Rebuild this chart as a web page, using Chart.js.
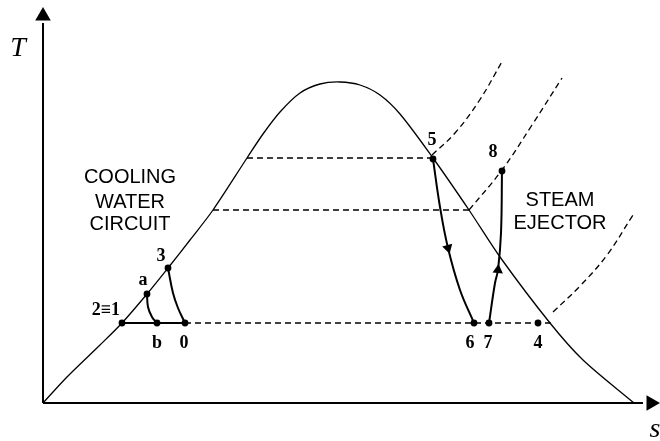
<!DOCTYPE html>
<html>
<head>
<meta charset="utf-8">
<script src="https://cdn.jsdelivr.net/npm/chart.js@4/dist/chart.umd.min.js"></script>
<style>
  html, body { margin: 0; padding: 0; background: #fff; }
  canvas { display: block; }
</style>
</head>
<body>
<canvas id="ts" width="660" height="441"></canvas>
<script>
// T-s diagram, schematic units (s across, T up)

// saturation dome
const domeS = [0, 24, 57, 79, 104, 125, 147, 170, 204, 220, 237, 257, 277, 297, 317, 337, 357, 390, 426, 457, 507, 540, 591];
const domeT = [0, 26, 58, 80, 109, 135, 163, 193, 245, 269, 291, 310, 319, 321, 318, 308, 289, 245, 193, 146, 80, 43, 0];

// constant temperature lines
const isoHigh = { s: [204, 390], T: [245, 245] };
const isoMid = { s: [170, 426], T: [193, 193] };
const isoLow = { s: [142, 510], T: [80, 80] };
const coolLine = { s: [79, 142], T: [80, 80] };

// superheated isobars (dashed)
const isobarA = { s: [389, 412, 436, 460], T: [248, 270, 302, 343] };
const isobarB = { s: [426, 459, 489, 519], T: [193, 233, 278, 325] };
const isobarC = { s: [510, 537, 564, 590], T: [91, 117, 148, 188] };

// process paths
const pathAB = { s: [104, 105, 109, 114], T: [109, 96, 86, 80] };
const path30 = { s: [125, 130, 135, 142], T: [135, 110, 95, 80] };
const path56 = { s: [390, 397, 405, 417, 431], T: [244, 196, 155, 113, 80] };
const path78 = { s: [446, 452, 455, 458, 459], T: [80, 120, 133, 170, 232] };

// state points
const stateNames = ['2≡1', 'a', '3', 'b', '0', '5', '8', '6', '7', '4'];
const stateS = [79, 104, 125, 114, 142, 390, 459, 431, 446, 495];
const stateT = [80, 109, 135, 80, 80, 244, 232, 80, 80, 80];
const labelS = [77, 100, 118, 114, 141, 389, 450, 427, 445, 495];
const labelT = [93, 123, 147, 60, 60, 263, 251, 60, 60, 60];

// flow arrows on the ejector paths
const arrowS = [405, 455];
const arrowT = [155, 133];
const arrowDir = [164, 5];

// region captions
const captions = [
  { lines: ['COOLING', 'WATER', 'CIRCUIT'], s: 87, T: [226, 201, 179] },
  { lines: ['STEAM', 'EJECTOR'], s: 517, T: [203, 180] }
];

const toPts = (xs, ys) => xs.map((x, i) => ({ x: x, y: ys[i] }));

function line(obj, opts) {
  return Object.assign({
    data: toPts(obj.s, obj.T),
    showLine: true,
    borderColor: '#000',
    borderWidth: 1.3,
    pointRadius: 0,
    fill: false,
    clip: false
  }, opts);
}

const dash = [6, 4];

// draws the point names, captions and axis symbols
const textPlugin = {
  id: 'texts',
  afterDatasetsDraw(chart) {
    const ctx = chart.ctx;
    const xs = chart.scales.x, ys = chart.scales.y;
    ctx.save();
    ctx.fillStyle = '#000';
    ctx.textBaseline = 'middle';

    ctx.font = 'bold 18px "Liberation Serif", "Times New Roman", serif';
    stateNames.forEach((name, i) => {
      ctx.textAlign = i === 0 ? 'right' : 'center';
      ctx.fillText(name, xs.getPixelForValue(labelS[i]), ys.getPixelForValue(labelT[i]));
    });

    ctx.font = '20px "Liberation Sans", Arial, sans-serif';
    ctx.textAlign = 'center';
    captions.forEach(c => {
      c.lines.forEach((txt, j) => {
        ctx.fillText(txt, xs.getPixelForValue(c.s), ys.getPixelForValue(c.T[j]));
      });
    });

    ctx.font = 'italic 28px "Liberation Serif", "Times New Roman", serif';
    ctx.fillText('T', xs.getPixelForValue(-25), ys.getPixelForValue(354));
    ctx.fillText('s', xs.getPixelForValue(612), ys.getPixelForValue(-27));
    ctx.restore();
  }
};

new Chart(document.getElementById('ts'), {
  type: 'scatter',
  data: {
    datasets: [
      // axes
      line({ s: [0, 600], T: [0, 0] }, { borderWidth: 2 }),
      line({ s: [0, 0], T: [0, 380] }, { borderWidth: 2 }),
      {
        data: toPts([608, 0], [0, 387]),
        pointStyle: 'triangle',
        pointRadius: 9,
        rotation: [90, 0],
        backgroundColor: '#000',
        borderColor: '#000',
        borderWidth: 0,
        clip: false
      },
      // dome
      line({ s: domeS, T: domeT }, { tension: 0.3 }),
      line(isoHigh, { borderDash: dash }),
      line(isoMid, { borderDash: dash }),
      line(isoLow, { borderDash: dash }),
      line(coolLine, { borderWidth: 2 }),
      line(isobarA, { borderDash: dash, tension: 0.4 }),
      line(isobarB, { borderDash: dash, tension: 0.4 }),
      line(isobarC, { borderDash: dash, tension: 0.4 }),
      line(pathAB, { borderWidth: 2, tension: 0.4 }),
      line(path30, { borderWidth: 2, tension: 0.4 }),
      line(path56, { borderWidth: 2, tension: 0.4 }),
      line(path78, { borderWidth: 2, tension: 0.4 }),
      {
        data: toPts(arrowS, arrowT),
        pointStyle: 'triangle',
        pointRadius: 6,
        rotation: arrowDir,
        backgroundColor: '#000',
        borderColor: '#000',
        borderWidth: 0,
        clip: false
      },
      {
        data: toPts(stateS, stateT),
        pointRadius: 3.4,
        backgroundColor: '#000',
        borderColor: '#000',
        borderWidth: 0,
        clip: false
      }
    ]
  },
  options: {
    responsive: false,
    animation: false,
    devicePixelRatio: 1,
    layout: { autoPadding: false, padding: { left: 43, right: 0, top: 0, bottom: 38 } },
    scales: {
      x: { type: 'linear', min: 0, max: 617, display: false },
      y: { type: 'linear', min: 0, max: 403, display: false }
    },
    plugins: {
      legend: { display: false },
      tooltip: { enabled: false }
    },
    events: []
  },
  plugins: [textPlugin]
});
</script>
</body>
</html>
